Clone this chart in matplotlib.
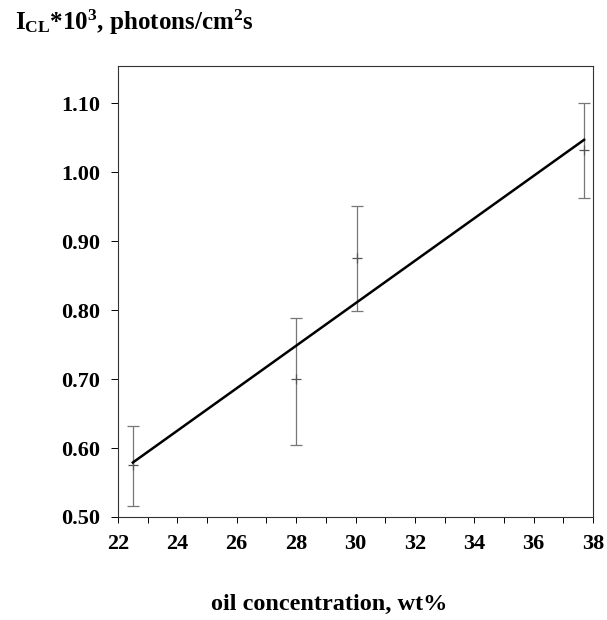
import matplotlib
matplotlib.use("Agg")
import matplotlib.pyplot as plt
from matplotlib.ticker import MultipleLocator

# Data
oil_conc = [22.5, 28.0, 30.05, 37.7]
icl_mean = [0.576, 0.700, 0.876, 1.032]
icl_upper = [0.632, 0.789, 0.951, 1.100]
icl_lower = [0.516, 0.605, 0.799, 0.962]
fit_x = [22.5, 37.7]
fit_y = [0.579, 1.047]
x_ticks = [22, 24, 26, 28, 30, 32, 34, 36, 38]
y_ticks = [0.50, 0.60, 0.70, 0.80, 0.90, 1.00, 1.10]

plt.rcParams['font.family'] = ['Liberation Serif', 'DejaVu Serif']
plt.rcParams['mathtext.fontset'] = 'custom'
plt.rcParams['mathtext.rm'] = 'Liberation Serif:bold'
plt.rcParams['mathtext.it'] = 'Liberation Serif:bold'
plt.rcParams['mathtext.bf'] = 'Liberation Serif:bold'

fig = plt.figure(figsize=(6.07, 6.20), dpi=100)
ax = fig.add_axes([118/607, 1-517/620, (593-118)/607, (517-66)/620])

yerr = [[m - l for m, l in zip(icl_mean, icl_lower)],
        [u - m for m, u in zip(icl_mean, icl_upper)]]
ax.errorbar(oil_conc, icl_mean, yerr=yerr, fmt='+', color='#555555',
            ecolor='#777777', elinewidth=0.9, capsize=4.5, capthick=0.9,
            markersize=7, markeredgewidth=0.9, zorder=2)
ax.plot(fit_x, fit_y, color='black', linewidth=1.8, zorder=3)

ax.set_xlim(22, 38)
ax.set_ylim(0.50, 1.154)
ax.set_xticks(x_ticks)
ax.set_xticklabels([str(v) for v in x_ticks])
ax.xaxis.set_minor_locator(MultipleLocator(1))
ax.set_yticks(y_ticks)
ax.set_yticklabels([f"{v:.2f}" for v in y_ticks])

ax.tick_params(axis='x', which='both', direction='out', length=4, width=0.7,
               labelsize=16, pad=8)
ax.tick_params(axis='y', which='both', direction='out', length=5, width=0.7,
               labelsize=16, pad=8)
for lbl in ax.get_xticklabels() + ax.get_yticklabels():
    lbl.set_fontweight('bold')

for s in ax.spines.values():
    s.set_linewidth(0.8)
    s.set_color('#333333')

fig.text(329/607, 1-604/620, 'oil concentration, wt%',
         ha='center', va='center', fontsize=17.5, fontweight='bold')
fig.text(15/607, 1-22/620, r'$\mathrm{I_{CL}{*}10^{3}}$, photons/cm$^{2}$s',
         ha='left', va='center', fontsize=18, fontweight='bold')

fig.savefig('out.png', dpi=100, facecolor='white')
